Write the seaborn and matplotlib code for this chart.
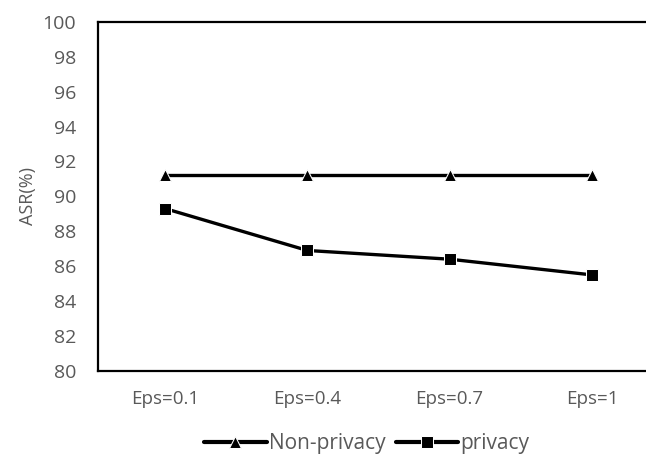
import pandas as pd
import matplotlib
matplotlib.use("Agg")
import matplotlib.pyplot as plt
import seaborn as sns

# values
eps_labels = ["Eps=0.1", "Eps=0.4", "Eps=0.7", "Eps=1"]
non_privacy = [91.2, 91.2, 91.2, 91.2]
privacy = [89.3, 86.9, 86.4, 85.5]

df = pd.DataFrame({
    "eps": eps_labels * 2,
    "asr": non_privacy + privacy,
    "series": ["Non-privacy"] * 4 + ["privacy"] * 4,
})

sns.set_style("white")
plt.rcParams["font.family"] = ["Open Sans", "DejaVu Sans"]

fig = plt.figure(figsize=(6.46, 4.54), dpi=100)
ax = fig.add_axes([0.152, 0.183, 0.848, 0.769])

sns.lineplot(data=df, x="eps", y="asr", hue="series", style="series",
             markers={"Non-privacy": "^", "privacy": "s"}, dashes=False,
             palette={"Non-privacy": "black", "privacy": "black"},
             linewidth=2.4, markersize=8, ax=ax)

ax.set_ylim(80, 100)
ax.set_yticks(range(80, 101, 2))
ax.set_xlim(-0.47, 3.38)
ax.set_xlabel("")
ax.set_ylabel("ASR(%)", color="#595959", fontsize=13, labelpad=4)
ax.tick_params(axis="y", colors="#595959", labelsize=14, length=0, pad=16)
ax.tick_params(axis="x", colors="#595959", labelsize=13.5, length=0, pad=14)

for side in ["left", "top", "bottom"]:
    ax.spines[side].set_color("black")
    ax.spines[side].set_linewidth(1.6)
ax.spines["right"].set_visible(False)

leg = ax.legend(loc="upper center", bbox_to_anchor=(0.49, -0.125), ncol=2,
                frameon=False, fontsize=15, handlelength=3.0,
                handletextpad=0.1, columnspacing=0.5)
for t in leg.get_texts():
    t.set_color("#595959")
for h in leg.legend_handles:
    h.set_markersize(8)
    h.set_linewidth(3)

fig.savefig("out.png", dpi=100)
